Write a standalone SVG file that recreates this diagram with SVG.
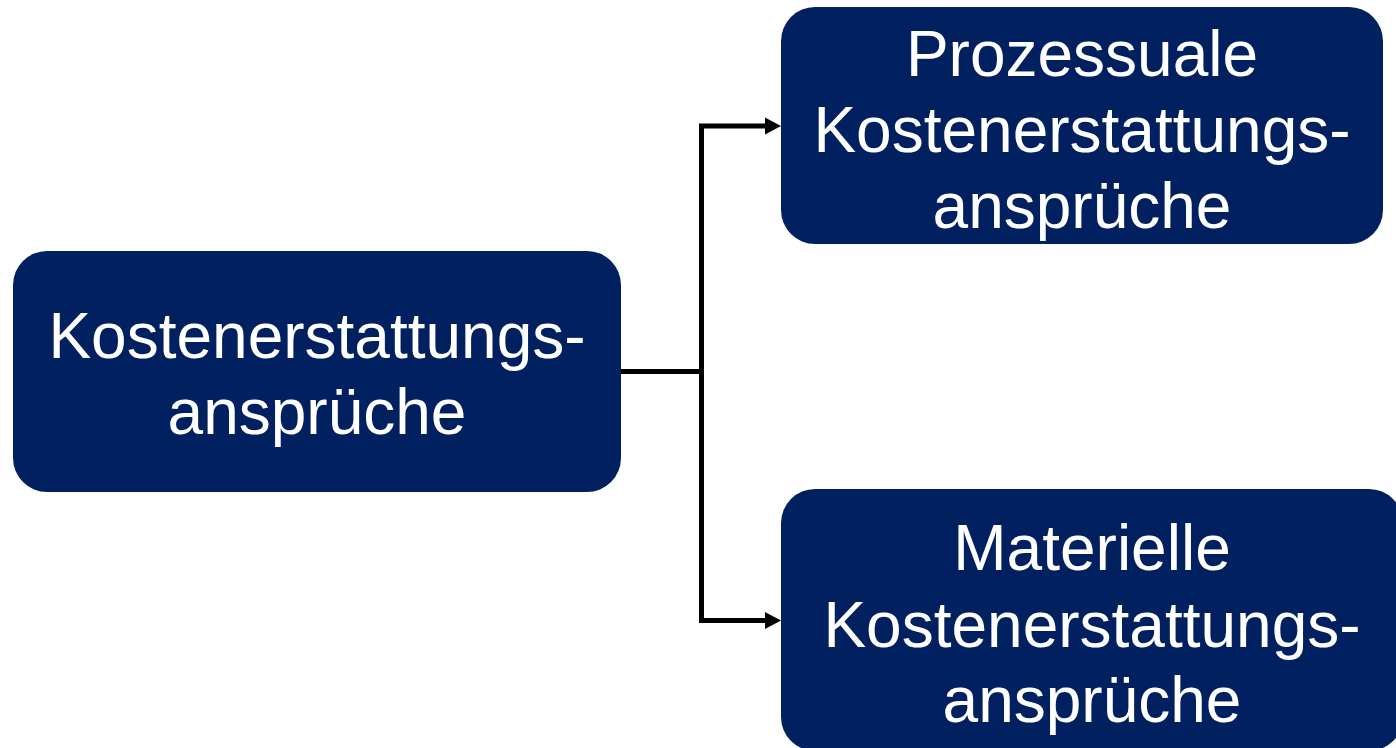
<svg xmlns="http://www.w3.org/2000/svg" width="1396" height="748" viewBox="0 0 1396 748">
<defs>
<style>
.box{fill:#002060;}
.t{font-family:"Liberation Sans",Arial,sans-serif;font-size:64px;fill:#ffffff;text-anchor:middle;}
.c{fill:none;stroke:#000000;stroke-width:5;}
</style>
<marker id="ah" markerUnits="userSpaceOnUse" markerWidth="20" markerHeight="20" refX="2" refY="10" orient="auto" overflow="visible">
<path d="M0,1.5 L16,10 L0,18.5 Z" fill="#000000"/>
</marker>
</defs>
<g id="connectors">
<path class="c" d="M621,371.5 H701.5"/>
<path class="c" d="M701.5,620.5 V126 H767" marker-end="url(#ah)"/>
<path class="c" d="M701.5,371.5 V620.5 H767" marker-end="url(#ah)"/>
</g>
<g id="root">
<rect class="box" x="13" y="251" width="608" height="241" rx="34"/>
<text class="t" x="317" y="358">Kostenerstattungs-</text>
<text class="t" x="317" y="434">ansprüche</text>
</g>
<g id="prozessuale">
<rect class="box" x="781" y="7" width="602" height="237" rx="34"/>
<text class="t" x="1082" y="76">Prozessuale</text>
<text class="t" x="1082" y="152">Kostenerstattungs-</text>
<text class="t" x="1082" y="228">ansprüche</text>
</g>
<g id="materielle">
<rect class="box" x="781" y="489" width="622" height="262" rx="34"/>
<text class="t" x="1092" y="570">Materielle</text>
<text class="t" x="1092" y="647">Kostenerstattungs-</text>
<text class="t" x="1092" y="722">ansprüche</text>
</g>
</svg>
